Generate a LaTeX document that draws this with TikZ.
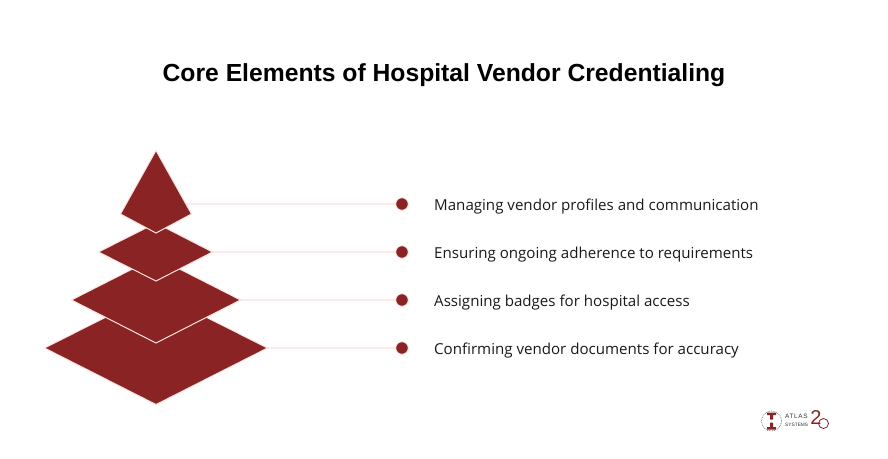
\documentclass[tikz,border=0pt]{standalone}
\usepackage{fontspec}
\setmainfont{Liberation Sans}
\newfontfamily\itemfont{Open Sans}
\newfontfamily\logofont[LetterSpace=10]{Liberation Sans}
\usetikzlibrary{positioning}
\definecolor{brick}{HTML}{8A2323}
\definecolor{blush}{HTML}{FBE3E3}
\definecolor{palelink}{HTML}{FCEBEB}
\begin{document}
\begin{tikzpicture}[x=1pt,y=-1pt,
  layer/.style={fill=brick,draw=blush,line width=1pt,line join=miter},
  link/.style={draw=palelink,line width=1.3pt},
  dot/.style={circle,fill=brick,draw=blush,line width=0.8pt,inner sep=0pt,minimum size=12.5pt},
  item/.style={anchor=west,font=\itemfont\fontsize{15.1}{18}\selectfont,text=black!90,inner sep=0pt}]
\useasboundingbox (0,0) rectangle (888,458);
\node[font=\fontsize{24.7}{29}\selectfont\bfseries,inner sep=0pt] (title) at (444,75.5) {Core Elements of Hospital Vendor Credentialing};
\coordinate (start1) at (185,204);
\coordinate (start2) at (205,252);
\coordinate (start3) at (235,300);
\coordinate (start4) at (262,348);
\node[dot] (dot1) at (402,204) {};
\node[dot] (dot2) at (402,252) {};
\node[dot] (dot3) at (402,300) {};
\node[dot] (dot4) at (402,348) {};
\node[item] (text1) at (434,207) {Managing vendor profiles and communication};
\node[item] (text2) at (434,255) {Ensuring ongoing adherence to requirements};
\node[item] (text3) at (434,303) {Assigning badges for hospital access};
\node[item] (text4) at (434,351) {Confirming vendor documents for accuracy};
\draw[link] (start1) -- (dot1);
\draw[link] (start2) -- (dot2);
\draw[link] (start3) -- (dot3);
\draw[link] (start4) -- (dot4);
% pyramid, bottom layer first
\draw[layer] (44.5,348) -- (156,292) -- (267.5,348) -- (156,404.5) -- cycle;
\draw[layer] (71.5,300) -- (156,257) -- (240.5,300) -- (156,343) -- cycle;
\draw[layer] (98.5,252) -- (156,223) -- (212.5,252) -- (156,281) -- cycle;
\draw[layer] (156,150.5) -- (191.5,214) -- (156,233) -- (120.5,214) -- cycle;
% logo
\node[circle,draw=black!60,densely dotted,line width=0.7pt,minimum size=20pt,inner sep=0pt] (seal) at (771.5,421) {};
\fill[brick] (767,412.5) rectangle (776,415) (770,415) rectangle (773,419.5) (770,422.5) rectangle (773,427) (767,427) rectangle (776,429.5);
\node[anchor=west,font=\logofont\fontsize{6.4}{7}\selectfont,text=black!80,inner sep=0pt] (atlas) at (785,416.5) {ATLAS};
\node[anchor=west,font=\fontsize{4.8}{6}\selectfont,text=black!80,inner sep=0pt] (systems) at (785,424.5) {SYSTEMS};
\node[font=\fontsize{20}{22}\selectfont,text=brick,inner sep=0pt] (two) at (816,418) {2};
\node[circle,draw=brick,line width=0.8pt,minimum size=10pt,inner sep=0pt] (zero) at (823.5,423.5) {};
\end{tikzpicture}
\end{document}
